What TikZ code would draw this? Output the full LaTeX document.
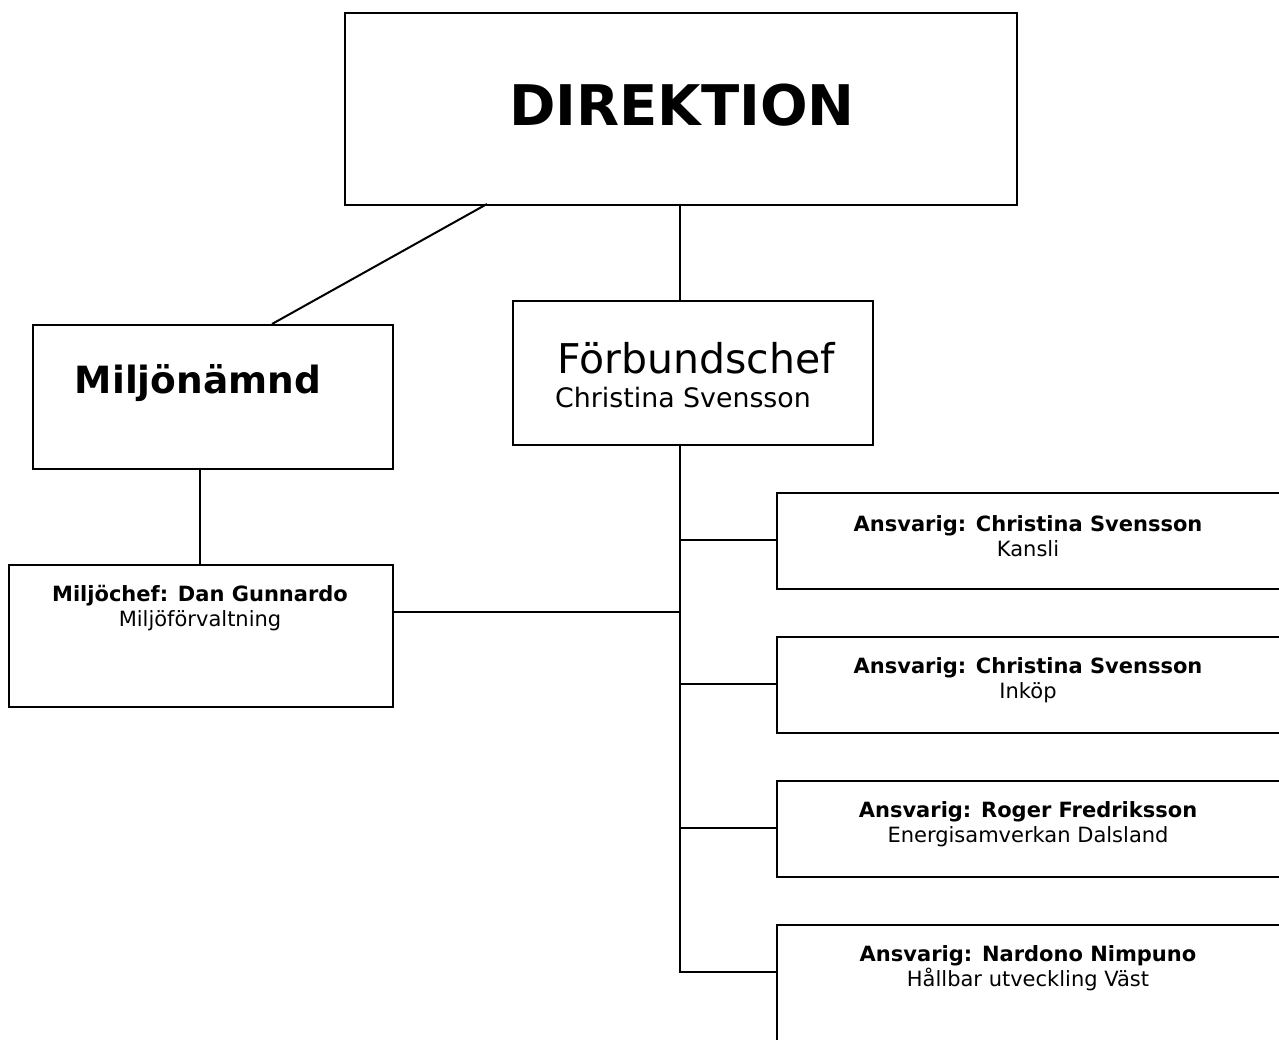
\documentclass[tikz,border=0pt]{standalone}
\usepackage{fontspec}
\setmainfont{DejaVu Sans}
\begin{document}
\begin{tikzpicture}[x=1pt,y=-1pt,
  box/.style={draw,line width=2pt,inner sep=0pt,anchor=north west},
  conn/.style={line width=2pt},
  txt/.style={inner sep=0pt,align=center,anchor=center},
  small/.style={txt,font=\fontsize{21}{25}\selectfont}]
\useasboundingbox (0,0) rectangle (1279,1040);
\clip (0,0) rectangle (1279,1040);
% boxes
\node[box,minimum width=672pt,minimum height=192pt] (dir) at (344,12) {};
\node[box,minimum width=360pt,minimum height=144pt] (mn) at (32,324) {};
\node[box,minimum width=360pt,minimum height=144pt] (fc) at (512,300) {};
\node[box,minimum width=384pt,minimum height=142pt] (mc) at (8,564) {};
\node[box,minimum width=506pt,minimum height=96pt] (r1) at (776,492) {};
\node[box,minimum width=506pt,minimum height=96pt] (r2) at (776,636) {};
\node[box,minimum width=506pt,minimum height=96pt] (r3) at (776,780) {};
\node[box,minimum width=506pt,minimum height=144pt] (r4) at (776,924) {};
% texts
\node[txt,font=\fontsize{56}{60}\selectfont\bfseries] (tdir) at (682,105) {DIREKTION};
\node[txt,font=\fontsize{37.5}{40}\selectfont\bfseries] (tmn) at (198,383) {Miljönämnd};
\node[txt,font=\fontsize{41}{44}\selectfont] (tfc1) at (696,358) {Förbundschef};
\node[txt,font=\fontsize{26.8}{30}\selectfont] (tfc2) at (683,398) {Christina Svensson};
\node[small] (tmc) at (200,608) {\textbf{Miljöchef: Dan Gunnardo}\\Miljöförvaltning};
\node[small] (tr1) at (1028,536) {\textbf{Ansvarig: Christina Svensson}\\Kansli};
\node[small] (tr2) at (1028,680) {\textbf{Ansvarig: Christina Svensson}\\Inköp};
\node[small] (tr3) at (1028,824) {\textbf{Ansvarig: Roger Fredriksson}\\Energisamverkan Dalsland};
\node[small] (tr4) at (1028,968) {\textbf{Ansvarig: Nardono Nimpuno}\\Hållbar utveckling Väst};
% connectors
\coordinate (j0) at (680,444);
\coordinate (j1) at (680,540);
\coordinate (j2) at (680,684);
\coordinate (j3) at (680,828);
\coordinate (j4) at (680,972);
\coordinate (jm) at (680,612);
\coordinate (dl) at (487,204);
\coordinate (mt) at (272,324);
\coordinate (dt) at (680,204);
\coordinate (ft) at (680,300);
\coordinate (mnb) at (200,468);
\coordinate (mct) at (200,564);
\draw[conn] (dl) -- (mt);
\draw[conn] (dt) -- (ft);
\draw[conn] (j0) -- (j4) -- (r4.west |- j4);
\draw[conn] (j1) -- (r1.west |- j1);
\draw[conn] (j2) -- (r2.west |- j2);
\draw[conn] (j3) -- (r3.west |- j3);
\draw[conn] (mnb) -- (mct);
\draw[conn] (mc.east |- jm) -- (jm);
\end{tikzpicture}
\end{document}
